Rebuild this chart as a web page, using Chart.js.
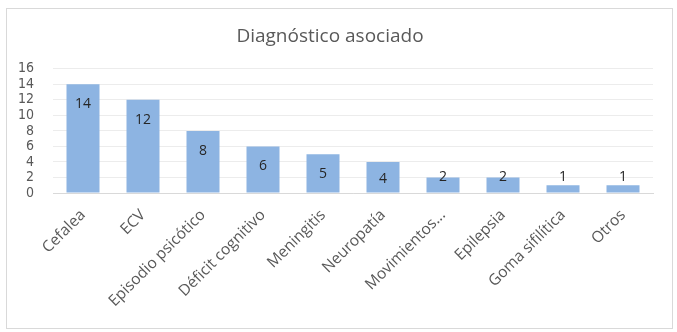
<!DOCTYPE html>
<html>
<head>
<meta charset="utf-8">
<script src="https://cdn.jsdelivr.net/npm/chart.js@4.4.1/dist/chart.umd.min.js"></script>
<style>
  body { margin: 0; background: #fff; }
  #box {
    position: absolute; left: 6px; top: 8px;
    width: 665px; height: 319px;
    border: 1px solid #d9d9d9;
  }
</style>
</head>
<body>
<div id="box"><canvas id="mychart" width="665" height="319"></canvas></div>
<script>
// categories and counts
let diagnosticos = [
  "Cefalea",
  "ECV",
  "Episodio psicótico",
  "Déficit cognitivo",
  "Meningitis",
  "Neuropatía",
  "Movimientos...",
  "Epilepsia",
  "Goma sifilítica",
  "Otros",
];
let casos = [14, 12, 8, 6, 5, 4, 2, 2, 1, 1];
let yTicks = [0, 2, 4, 6, 8, 10, 12, 14, 16];

//writes the count on every bar (inside near top, above for short bars)
const valueLabels = {
  id: "valueLabels",
  afterDatasetsDraw(chart) {
    let ctx = chart.ctx;
    let meta = chart.getDatasetMeta(0);
    ctx.save();
    ctx.fillStyle = "#262626";
    ctx.font = "14px 'Open Sans', sans-serif";
    ctx.textAlign = "center";
    ctx.textBaseline = "middle";
    meta.data.forEach((bar, i) => {
      let h = bar.base - bar.y;
      let y;
      if (h >= 25) {
        y = bar.y + Math.min(20, h / 2 + 2);
      } else {
        y = bar.base - 15;
      }
      ctx.fillText(casos[i], bar.x, y);
    });
    ctx.restore();
  },
};

let data = {
  labels: diagnosticos,
  datasets: [
    {
      label: "Diagnóstico asociado",
      data: casos,
      backgroundColor: "#8db4e2",
      barPercentage: 0.55,
      categoryPercentage: 1,
    },
  ],
};

let options = {
  responsive: false,
  animation: false,
  layout: {
    padding: { left: 0, right: 19, top: 0, bottom: 0 },
  },
  plugins: {
    legend: { display: false },
    tooltip: { enabled: false },
    title: {
      display: true,
      text: "Diagnóstico asociado",
      color: "#595959",
      font: { family: "'Open Sans', sans-serif", size: 19, weight: "normal", lineHeight: 1.2 },
      padding: { top: 16, bottom: 21 },
    },
  },
  scales: {
    y: {
      min: 0,
      max: 16,
      afterBuildTicks: (scale) => {
        scale.ticks = yTicks.map((v) => ({ value: v }));
      },
      afterFit: (scale) => {
        scale.width = 46;
      },
      border: { display: false },
      grid: { color: "#ececec", drawTicks: false },
      ticks: {
        autoSkip: false,
        padding: 19,
        color: "#595959",
        font: { family: "'Liberation Sans Narrow', 'DejaVu Sans Condensed', sans-serif", size: 14 },
      },
    },
    x: {
      afterFit: (scale) => {
        scale.height = 135;
      },
      border: { display: true, color: "#d9d9d9", width: 1 },
      grid: { display: false },
      ticks: {
        autoSkip: false,
        maxRotation: 45,
        minRotation: 45,
        padding: 5,
        color: "#595959",
        font: { family: "'Open Sans', sans-serif", size: 15.5 },
      },
    },
  },
};

const config = {
  type: "bar",
  data: data,
  options: options,
  plugins: [valueLabels],
};
let chart = new Chart(document.getElementById("mychart"), config);
</script>
</body>
</html>
